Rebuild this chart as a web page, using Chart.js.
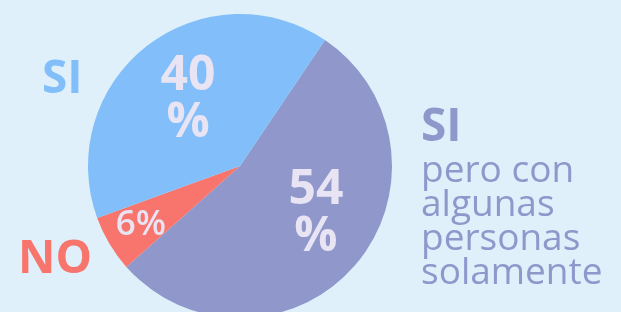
<!DOCTYPE html>
<html>
<head>
<meta charset="utf-8">
<script src="https://cdn.jsdelivr.net/npm/chart.js@4.4.0/dist/chart.umd.min.js"></script>
<style>
  html, body { margin: 0; padding: 0; background: #dff0fb; overflow: hidden; }
  #wrap { width: 621px; height: 312px; overflow: hidden; }
</style>
</head>
<body>
<div id="wrap"><canvas id="pie" width="621" height="330"></canvas></div>
<script>
// --- Données ---
const categories = ['SI pero con algunas personas solamente', 'NO', 'SI'];
const values = [54, 6, 40];
const sliceColors = ['#8f97cb', '#f8756d', '#82bffa'];
const valueLabels = [['54', '%'], ['6%'], ['40', '%']];

// position des étiquettes dans les parts (fraction du rayon, décalage en degrés)
const labelFrac = [0.59, 0.76, 0.555];
const labelShift = [-9, 0, 0];
const labelSize = [48, 35, 48];

const FONT = '"Open Sans", "Noto Sans", sans-serif';

// Étiquettes à l'intérieur des parts
const sliceLabels = {
    id: 'sliceLabels',
    afterDatasetsDraw(chart) {
        const ctx = chart.ctx;
        const arcs = chart.getDatasetMeta(0).data;
        ctx.save();
        ctx.fillStyle = '#e8e4f4';
        ctx.textAlign = 'center';
        ctx.textBaseline = 'middle';
        arcs.forEach((arc, i) => {
            const mid = (arc.startAngle + arc.endAngle) / 2 + labelShift[i] * Math.PI / 180;
            const r = arc.outerRadius * labelFrac[i];
            const x = arc.x + Math.cos(mid) * r;
            const y = arc.y + Math.sin(mid) * r;
            const lines = valueLabels[i];
            const lh = 47;
            ctx.font = (lines.length > 1 ? '700 ' : '600 ') + labelSize[i] + 'px ' + FONT;
            lines.forEach((t, k) => {
                ctx.fillText(t, x, y + (k - (lines.length - 1) / 2) * lh);
            });
        });
        ctx.restore();
    }
};

// Noms des catégories autour du camembert
const sideLabels = {
    id: 'sideLabels',
    afterDraw(chart) {
        const ctx = chart.ctx;
        ctx.save();
        ctx.textAlign = 'left';
        ctx.textBaseline = 'alphabetic';

        ctx.font = '700 46px ' + FONT;
        ctx.fillStyle = sliceColors[2];
        ctx.fillText(categories[2], 42, 93);
        ctx.fillStyle = sliceColors[1];
        ctx.fillText(categories[1], 18, 273);

        const parts = categories[0].split(' ');
        ctx.fillStyle = sliceColors[0];
        ctx.fillText(parts[0], 421, 141);
        ctx.font = '400 37px ' + FONT;
        const rest = [parts[1] + ' ' + parts[2], parts[3], parts[4], parts[5]];
        rest.forEach((t, k) => ctx.fillText(t, 421, 182 + k * 34));
        ctx.restore();
    }
};

new Chart(document.getElementById('pie'), {
    type: 'pie',
    data: {
        labels: categories,
        datasets: [{
            data: values,
            backgroundColor: sliceColors,
            borderWidth: 0
        }]
    },
    options: {
        responsive: false,
        animation: false,
        rotation: 34,
        layout: { padding: { left: 88, right: 229, top: 14, bottom: 12 } },
        plugins: { legend: { display: false }, tooltip: { enabled: false } }
    },
    plugins: [sliceLabels, sideLabels]
});
</script>
</body>
</html>
